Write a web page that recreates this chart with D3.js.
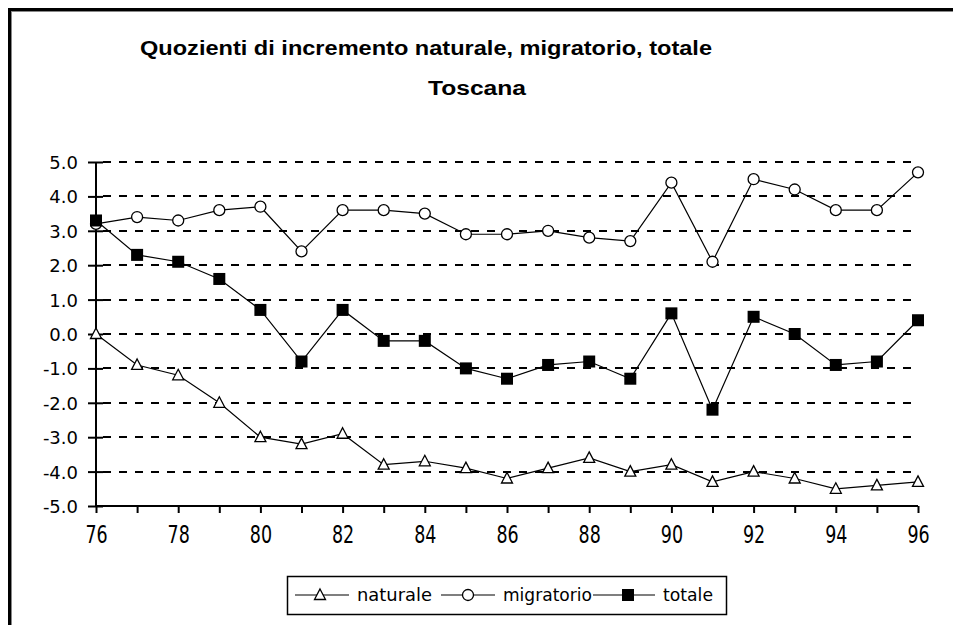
<!DOCTYPE html>
<html>
<head>
<meta charset="utf-8">
<script src="https://cdn.jsdelivr.net/npm/d3@7"></script>
<style>
  html, body { margin: 0; padding: 0; background: #fff; }
  svg { display: block; }
</style>
</head>
<body>
<svg id="chart" width="953" height="625"></svg>
<script>
const years = [76,77,78,79,80,81,82,83,84,85,86,87,88,89,90,91,92,93,94,95,96];
const naturale   = [0.0,-0.9,-1.2,-2.0,-3.0,-3.2,-2.9,-3.8,-3.7,-3.9,-4.2,-3.9,-3.6,-4.0,-3.8,-4.3,-4.0,-4.2,-4.5,-4.4,-4.3];
const migratorio = [3.2,3.4,3.3,3.6,3.7,2.4,3.6,3.6,3.5,2.9,2.9,3.0,2.8,2.7,4.4,2.1,4.5,4.2,3.6,3.6,4.7];
const totale     = [3.3,2.3,2.1,1.6,0.7,-0.8,0.7,-0.2,-0.2,-1.0,-1.3,-0.9,-0.8,-1.3,0.6,-2.2,0.5,0.0,-0.9,-0.8,0.4];
const yTicks = [-5,-4,-3,-2,-1,0,1,2,3,4,5];
const xLabelYears = [76,78,80,82,84,86,88,90,92,94,96];
const seriesNames = ["naturale","migratorio","totale"];
const titleLines = ["Quozienti di incremento naturale, migratorio, totale","Toscana"];

const svg = d3.select("#chart");
const FONT = "'DejaVu Sans', Verdana, sans-serif";

// outer frame
svg.append("rect").attr("x",0).attr("y",0).attr("width",953).attr("height",625).attr("fill","#fff");
svg.append("line").attr("x1",8).attr("x2",953).attr("y1",9.5).attr("y2",9.5).attr("stroke","#000").attr("stroke-width",3);
svg.append("line").attr("x1",9.5).attr("x2",9.5).attr("y1",8).attr("y2",625).attr("stroke","#000").attr("stroke-width",3);
svg.append("line").attr("x1",11).attr("x2",953).attr("y1",11.5).attr("y2",11.5).attr("stroke","#888").attr("stroke-width",1);
svg.append("line").attr("x1",11.5).attr("x2",11.5).attr("y1",11).attr("y2",625).attr("stroke","#888").attr("stroke-width",1);

// title
svg.append("text").text(titleLines[0])
  .attr("x",140).attr("y",55)
  .attr("font-family","'Liberation Sans', Arial, sans-serif").attr("font-weight","bold").attr("font-size",20)
  .attr("textLength",572).attr("lengthAdjust","spacingAndGlyphs");
svg.append("text").text(titleLines[1])
  .attr("x",428).attr("y",95)
  .attr("font-family","'Liberation Sans', Arial, sans-serif").attr("font-weight","bold").attr("font-size",20)
  .attr("textLength",98).attr("lengthAdjust","spacingAndGlyphs");

const x = d3.scaleLinear().domain([76,96]).range([96,918]);
const y = d3.scaleLinear().domain([-5,5]).range([506,162]);

// gridlines
svg.append("g").selectAll("line").data(yTicks.filter(d => d > -5)).join("line")
  .attr("x1",103).attr("x2",918)
  .attr("y1",d => Math.round(y(d))).attr("y2",d => Math.round(y(d)))
  .attr("stroke","#000").attr("stroke-width",2).attr("stroke-dasharray","8,8");

// y axis
const yAxis = svg.append("g").attr("transform","translate(96,0)")
  .call(d3.axisLeft(y).tickValues(yTicks).tickSize(8).tickFormat(d => d.toFixed(1)));
yAxis.select(".domain").attr("stroke","#000").attr("stroke-width",2).attr("d","M0,162V506");
yAxis.selectAll(".tick line").attr("x1",-8).attr("x2",7).attr("stroke-width",2);
yAxis.selectAll(".tick text")
  .attr("x",-18).attr("dy","0.36em")
  .attr("font-family",FONT).attr("font-size",18).attr("fill","#000");

// x axis
const xAxis = svg.append("g").attr("transform","translate(0,506)")
  .call(d3.axisBottom(x).tickValues(years).tickSize(7).tickFormat(d => xLabelYears.includes(d) ? String(d) : ""));
xAxis.select(".domain").attr("stroke","#000").attr("stroke-width",2).attr("d","M96,0H918");
xAxis.selectAll(".tick line").attr("stroke-width",2);
xAxis.selectAll(".tick text")
  .attr("y",0).attr("dy",0)
  .attr("transform","translate(0,37) scale(1,1.4)")
  .attr("font-family",FONT).attr("font-size",17.5).attr("fill","#000");

// series
const line = d3.line().x((d,i) => x(years[i])).y(d => y(d));
const data = [naturale, migratorio, totale];
data.forEach(s => {
  svg.append("path").datum(s).attr("d",line)
    .attr("fill","none").attr("stroke","#000").attr("stroke-width",1.2);
});

function drawMarker(g, kind, cx, cy) {
  if (kind === 0) {
    g.append("path").attr("d","M0,-6L5.5,4.5L-5.5,4.5Z").attr("transform",`translate(${cx},${cy})`)
      .attr("fill","#fff").attr("stroke","#000").attr("stroke-width",1.3);
  } else if (kind === 1) {
    g.append("circle").attr("cx",cx).attr("cy",cy).attr("r",5.5)
      .attr("fill","#fff").attr("stroke","#000").attr("stroke-width",1.3);
  } else {
    g.append("rect").attr("x",cx-6).attr("y",cy-6).attr("width",12).attr("height",12).attr("fill","#000");
  }
}
const mg = svg.append("g");
data.forEach((s,k) => {
  s.forEach((v,i) => drawMarker(mg, k, x(years[i]), y(v)));
});

// legend
const lg = svg.append("g");
lg.append("rect").attr("x",287.5).attr("y",576.5).attr("width",439).attr("height",38)
  .attr("fill","#fff").attr("stroke","#000").attr("stroke-width",1.5);
const legendLayout = [
  {x1:295, x2:349, m:320, tx:357, tw:75},
  {x1:441, x2:495, m:468, tx:503, tw:89},
  {x1:593, x2:655, m:628, tx:663, tw:50}
];
const ly = 595;
seriesNames.forEach((name,k) => {
  const L = legendLayout[k];
  lg.append("line").attr("x1",L.x1).attr("x2",L.x2).attr("y1",ly).attr("y2",ly)
    .attr("stroke","#000").attr("stroke-width",1.2);
  drawMarker(lg, k, L.m, ly);
  lg.append("text").text(name).attr("x",L.tx).attr("y",ly).attr("dy","0.36em")
    .attr("textLength",L.tw).attr("lengthAdjust","spacingAndGlyphs")
    .attr("font-family",FONT).attr("font-size",18).attr("fill","#000");
});
</script>
</body>
</html>
